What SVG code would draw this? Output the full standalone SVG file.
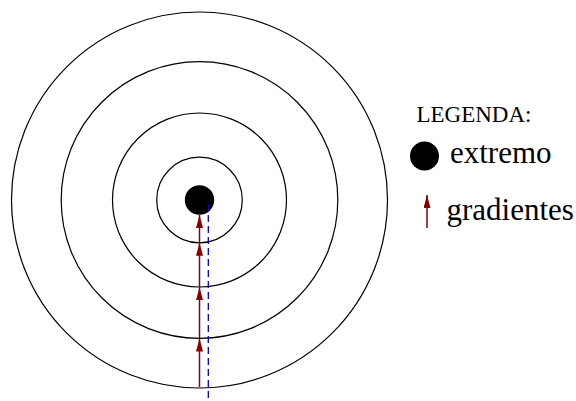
<svg xmlns="http://www.w3.org/2000/svg" width="576" height="401" viewBox="0 0 576 401">
<style>
.ring{fill:none;stroke:#000;stroke-width:1.2}
.grad{stroke:#8b0000;stroke-width:1.5;fill:none}
.lbl{font-family:"Liberation Serif","Times New Roman",serif;fill:#000}
</style>
<defs>
<marker id="ah" markerWidth="13" markerHeight="7" refX="13" refY="3.5" orient="auto" markerUnits="userSpaceOnUse" viewBox="0 0 13 7">
<path d="M0,0 L13,3.5 L0,7 Z" fill="#8b0000"/>
</marker>
</defs>
<rect width="576" height="401" fill="#fff"/>
<g id="rings">
<circle class="ring" cx="199.5" cy="200" r="188"/>
<circle class="ring" cx="199.5" cy="200" r="138.3"/>
<circle class="ring" cx="199.5" cy="200" r="87"/>
<circle class="ring" cx="199.5" cy="200" r="42.8"/>
</g>
<g id="extremo">
<circle cx="199.5" cy="200" r="14.7" fill="#000"/>
</g>
<g id="connectors">
<line x1="208.3" y1="204" x2="208.3" y2="401" stroke="#0000cc" stroke-width="1.3" stroke-dasharray="7,4"/>
<path class="grad" d="M199.5,387 L199.5,338.5" marker-end="url(#ah)"/>
<path class="grad" d="M199.5,338.5 L199.5,287.2" marker-end="url(#ah)"/>
<path class="grad" d="M199.5,287.2 L199.5,242.8" marker-end="url(#ah)"/>
<path class="grad" d="M199.5,242.8 L199.5,215" marker-end="url(#ah)"/>
</g>
<g id="legend">
<text class="lbl" x="416.5" y="122" font-size="23">LEGENDA:</text>
<circle cx="424.5" cy="156" r="14.5" fill="#000"/>
<text class="lbl" x="450" y="162.7" font-size="31">extremo</text>
<path class="grad" d="M427,228 L427,195" marker-end="url(#ah)"/>
<text class="lbl" x="446.5" y="220" font-size="31">gradientes</text>
</g>
</svg>
